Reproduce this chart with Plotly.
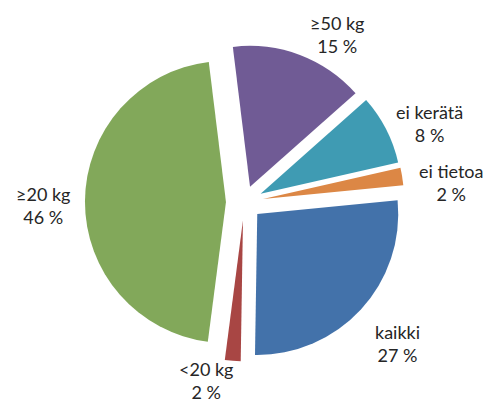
import plotly.graph_objects as go

labels = ["≥50 kg", "ei kerätä", "ei tietoa", "kaikki", "<20 kg", "≥20 kg"]
values = [15.4, 8.0, 2.0, 26.8, 1.8, 46.0]
colors = ["#705B95", "#3F9BB3", "#DC8745", "#4372AA", "#A84644", "#82A85A"]
pulls = [0.115, 0.13, 0.134, 0.125, 0.13, 0.13]

# label block centres (pixels in the 497x403 canvas) – layout only
label_px = [(337, 34), (429, 123), (451, 183), (397, 343), (206, 380), (43, 205)]

W, H = 497, 403

fig = go.Figure(go.Pie(
    labels=labels,
    values=values,
    sort=False,
    direction="clockwise",
    rotation=-7,
    pull=pulls,
    marker=dict(colors=colors, line=dict(width=0)),
    textinfo="none",
    showlegend=False,
    hoverinfo="label+percent",
    domain=dict(x=[0.1698, 0.8133], y=[0.1020, 0.8955]),
))

for lab, val, (px, py) in zip(labels, values, label_px):
    fig.add_annotation(
        x=px / W, y=1 - py / H, xref="paper", yref="paper",
        text=f"{lab}<br>{round(val)} %",
        showarrow=False, xanchor="center", yanchor="middle", align="center",
        font=dict(family="Lato, Open Sans, sans-serif", size=18, color="#262626"),
    )

fig.update_layout(
    width=W, height=H,
    margin=dict(l=0, r=0, t=0, b=0),
    paper_bgcolor="white",
    plot_bgcolor="white",
)

fig.write_html("out.html", config={"displayModeBar": False},
               post_script="document.body.style.margin='0';")
